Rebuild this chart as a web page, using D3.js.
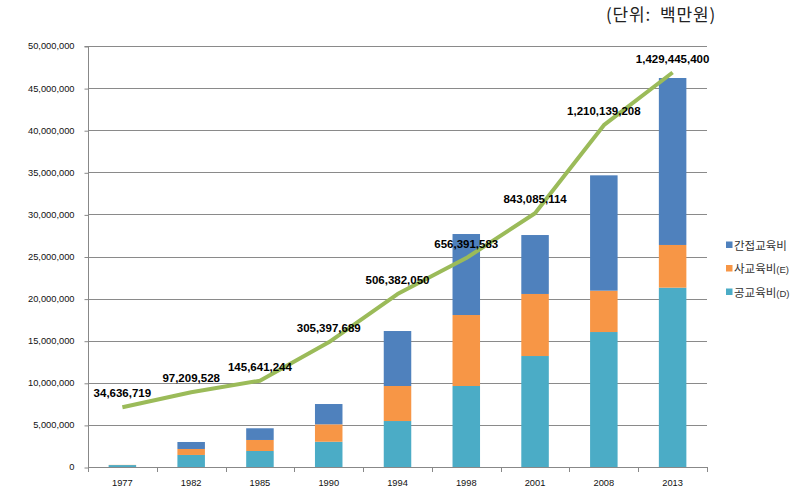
<!DOCTYPE html>
<html>
<head>
<meta charset="utf-8">
<script src="https://cdn.jsdelivr.net/npm/d3@7"></script>
<style>
  html, body { margin: 0; padding: 0; background: #fff; }
  svg { display: block; }
</style>
</head>
<body>
<svg id="chart" width="810" height="504"></svg>
<script>
// ---- data ----
const years = ["1977", "1982", "1985", "1990", "1994", "1998", "2001", "2008", "2013"];
const publicEdu = [230000, 1430000, 1900000, 3000000, 5460000, 9620000, 13180000, 16030000, 21300000];   // 공교육비(D)
const privateEdu = [20000, 710000, 1310000, 2070000, 4160000, 8430000, 7370000, 4910000, 5070000];      // 사교육비(E)
const indirectEdu = [0, 830000, 1390000, 2410000, 6530000, 9620000, 7000000, 13700000, 19830000];      // 간접교육비
const lineValues = [34636719, 97209528, 145641244, 305397689, 506382050, 656391583, 843085114, 1210139208, 1429445400];
const yTicks = [0, 5000000, 10000000, 15000000, 20000000, 25000000, 30000000, 35000000, 40000000, 45000000, 50000000];
const seriesNames = ["간접교육비", "사교육비", "공교육비"];
const seriesSuffix = ["", "(E)", "(D)"];
const unitLabel = "(단위:  백만원)";

// ---- layout ----
const svg = d3.select("#chart");
const plot = { left: 88, right: 707, top: 46, bottom: 467 };
const colors = { indirect: "#4F81BD", private: "#F79646", public: "#4BACC6", line: "#9BBB59" };

const x = d3.scaleBand().domain(years).range([plot.left, plot.right]).paddingInner(0.6).paddingOuter(0.3);
const y = d3.scaleLinear().domain([0, 50000000]).range([plot.bottom, plot.top]);
// hidden secondary axis for the line
const y2 = d3.scaleLinear().domain([-214000000, 1540000000]).range([plot.bottom, plot.top]);

// gridlines
svg.append("g").selectAll("line").data(yTicks.filter(d => d > 0)).join("line")
  .attr("x1", plot.left).attr("x2", plot.right)
  .attr("y1", d => Math.round(y(d)) + 0.5).attr("y2", d => Math.round(y(d)) + 0.5)
  .attr("stroke", "#8a8a8a").attr("stroke-width", 1);

// y axis
const yAxis = d3.axisLeft(y).tickValues(yTicks).tickSize(4).tickPadding(10)
  .tickFormat(d => d3.format(",")(d));
const gy = svg.append("g").attr("transform", `translate(${plot.left + 0.5},0)`).call(yAxis);
gy.select(".domain").attr("stroke", "#888").attr("d", `M-4,${plot.top + 0.5}H0V${plot.bottom + 0.5}`);
gy.selectAll(".tick line").attr("stroke", "#888").attr("transform", "translate(0,0.5)");
gy.selectAll(".tick text").attr("font-family", "Liberation Sans, Arial, sans-serif")
  .attr("font-size", "9.3px").attr("fill", "#111");

// stacked bars
const stackData = years.map((yr, i) => ({ year: yr, public: publicEdu[i], private: privateEdu[i], indirect: indirectEdu[i] }));
const stack = d3.stack().keys(["public", "private", "indirect"]);
const layers = stack(stackData);
svg.append("g").selectAll("g").data(layers).join("g")
  .attr("fill", d => colors[d.key])
  .selectAll("rect").data(d => d).join("rect")
  .attr("x", d => x(d.data.year))
  .attr("width", x.bandwidth())
  .attr("y", d => y(d[1]))
  .attr("height", d => Math.max(0, y(d[0]) - y(d[1])));

// x axis
const step = x.step();
const xAxisG = svg.append("g");
xAxisG.append("line").attr("x1", plot.left).attr("x2", plot.right)
  .attr("y1", plot.bottom + 0.5).attr("y2", plot.bottom + 0.5).attr("stroke", "#888");
const boundaries = d3.range(years.length + 1).map(i => plot.left + i * step);
xAxisG.selectAll("line.tk").data(boundaries).join("line").attr("class", "tk")
  .attr("x1", d => Math.round(d) + 0.5).attr("x2", d => Math.round(d) + 0.5)
  .attr("y1", plot.bottom).attr("y2", plot.bottom + 5).attr("stroke", "#888");
xAxisG.selectAll("text").data(years).join("text")
  .attr("x", d => x(d) + x.bandwidth() / 2)
  .attr("y", 486)
  .attr("text-anchor", "middle")
  .attr("font-family", "Liberation Sans, Arial, sans-serif")
  .attr("font-size", "9.3px").attr("fill", "#111")
  .text(d => d);

// line
const line = d3.line().x((d, i) => x(years[i]) + x.bandwidth() / 2).y(d => y2(d));
svg.append("path").datum(lineValues)
  .attr("d", line).attr("fill", "none")
  .attr("stroke", colors.line).attr("stroke-width", 4)
  .attr("stroke-linejoin", "round");

// line labels
svg.append("g").selectAll("text").data(lineValues).join("text")
  .attr("x", (d, i) => x(years[i]) + x.bandwidth() / 2)
  .attr("y", d => y2(d) - 10)
  .attr("text-anchor", "middle")
  .attr("font-family", "Liberation Sans, Arial, sans-serif")
  .attr("font-weight", "bold")
  .attr("font-size", "11.5px").attr("fill", "#000")
  .text(d => d3.format(",")(d));

// legend
const legendColors = [colors.indirect, colors.private, colors.public];
const lg = svg.append("g").attr("transform", "translate(726,245)");
const rows = lg.selectAll("g").data(seriesNames).join("g")
  .attr("transform", (d, i) => `translate(0,${i * 23.5})`);
rows.append("rect").attr("x", 0).attr("y", -3.5).attr("width", 6.5).attr("height", 6.5)
  .attr("fill", (d, i) => legendColors[i]);
const lt = rows.append("text").attr("x", 8).attr("y", 4.5)
  .attr("font-family", "Noto Sans CJK KR, sans-serif").attr("font-size", "11.5px").attr("fill", "#333");
lt.append("tspan").text(d => d);
lt.append("tspan").attr("font-size", "9.5px").attr("font-family", "Liberation Sans, Arial, sans-serif")
  .text((d, i) => seriesSuffix[i]);

// unit label
svg.append("text").attr("x", 716).attr("y", 21).attr("text-anchor", "end")
  .attr("font-family", "Noto Sans CJK KR, sans-serif").attr("font-size", "17px")
  .attr("letter-spacing", "0.8px").attr("fill", "#222")
  .style("white-space", "pre")
  .text(unitLabel);
</script>
</body>
</html>
